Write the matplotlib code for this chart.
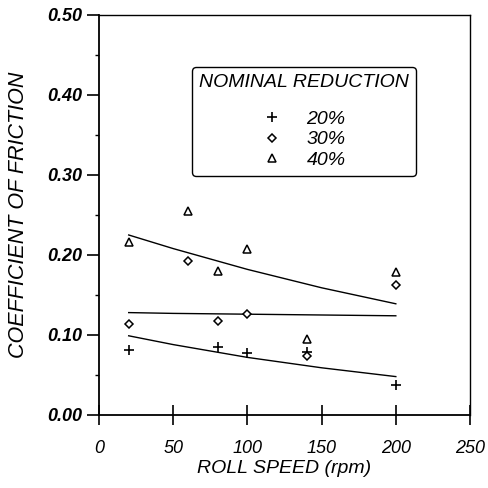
import matplotlib
matplotlib.use("Agg")
import matplotlib.pyplot as plt
from matplotlib.lines import Line2D

plt.rcParams['font.family'] = ['Liberation Sans', 'DejaVu Sans']

# Data
speed_20 = [20, 80, 100, 140, 200]
cof_20 = [0.081, 0.085, 0.078, 0.079, 0.037]
speed_30 = [20, 60, 80, 100, 140, 200]
cof_30 = [0.114, 0.192, 0.118, 0.126, 0.074, 0.162]
speed_40 = [20, 60, 80, 100, 140, 200]
cof_40 = [0.216, 0.255, 0.180, 0.208, 0.095, 0.179]

# Fitted curves
fit_x = [20, 50, 100, 150, 200]
fit_40 = [0.225, 0.208, 0.182, 0.159, 0.139]
fit_30 = [0.128, 0.127, 0.126, 0.125, 0.124]
fit_20 = [0.099, 0.088, 0.072, 0.059, 0.048]

legend_labels = ['20%', '30%', '40%']
x_ticks = [0, 50, 100, 150, 200, 250]
y_ticks = [0.0, 0.1, 0.2, 0.3, 0.4, 0.5]
y_ticklabels = ['0.00', '0.10', '0.20', '0.30', '0.40', '0.50']

fig = plt.figure(figsize=(4.89, 4.88), dpi=100)
ax = fig.add_axes([0.2025, 0.1496, 0.7587, 0.8197])

for fy in (fit_40, fit_30, fit_20):
    ax.plot(fit_x, fy, color='black', lw=1.0)

plus_style = dict(linestyle='none', marker='+', ms=7, mew=1.2, color='black')
dia_style = dict(linestyle='none', marker='D', ms=4.2, mew=1.1, mfc='white', mec='black')
tri_style = dict(linestyle='none', marker='^', ms=5.5, mew=1.1, mfc='white', mec='black')

ax.plot(speed_20, cof_20, **plus_style)
ax.plot(speed_30, cof_30, **dia_style)
ax.plot(speed_40, cof_40, **tri_style)

ax.set_xlim(0, 250)
ax.set_ylim(0, 0.5)
ax.set_xticks(x_ticks)
ax.set_yticks(y_ticks)
ax.set_yticks([0.05, 0.15, 0.25, 0.35, 0.45], minor=True)
ax.set_yticklabels(y_ticklabels)
ax.spines['left'].set_linewidth(1.3)
ax.spines['bottom'].set_linewidth(1.3)
ax.spines['top'].set_linewidth(1.0)
ax.spines['right'].set_linewidth(1.0)
ax.tick_params(axis='x', direction='inout', length=14, width=1.2, labelsize=13, pad=11)
ax.tick_params(axis='y', which='major', direction='out', length=9, width=1.2, labelsize=13, pad=3)
ax.tick_params(axis='y', which='minor', direction='out', length=3, width=1.0)
for lab in ax.get_xticklabels():
    lab.set_fontstyle('italic')
for lab in ax.get_yticklabels():
    lab.set_fontstyle('italic')
    lab.set_fontweight('bold')

ax.set_xlabel('ROLL SPEED (rpm)', fontsize=14, fontstyle='italic', labelpad=2)
ax.set_ylabel('COEFFICIENT OF FRICTION', fontsize=15.5, fontstyle='italic', labelpad=13)

handles = [Line2D([], [], **plus_style), Line2D([], [], **dia_style), Line2D([], [], **tri_style)]
leg = ax.legend(handles, legend_labels, title='NOMINAL REDUCTION',
                loc='upper left', bbox_to_anchor=(0.2507, 0.87),
                frameon=True, fancybox=True, edgecolor='black', framealpha=1,
                prop={'style': 'italic', 'size': 14},
                title_fontproperties={'style': 'italic', 'size': 14},
                alignment='center', handlelength=1.0, handletextpad=1.3,
                labelspacing=0.15, borderpad=0.35, borderaxespad=0)
leg._legend_box.sep = 14
leg.get_frame().set_linewidth(1.0)

fig.savefig('out.png', dpi=100)
